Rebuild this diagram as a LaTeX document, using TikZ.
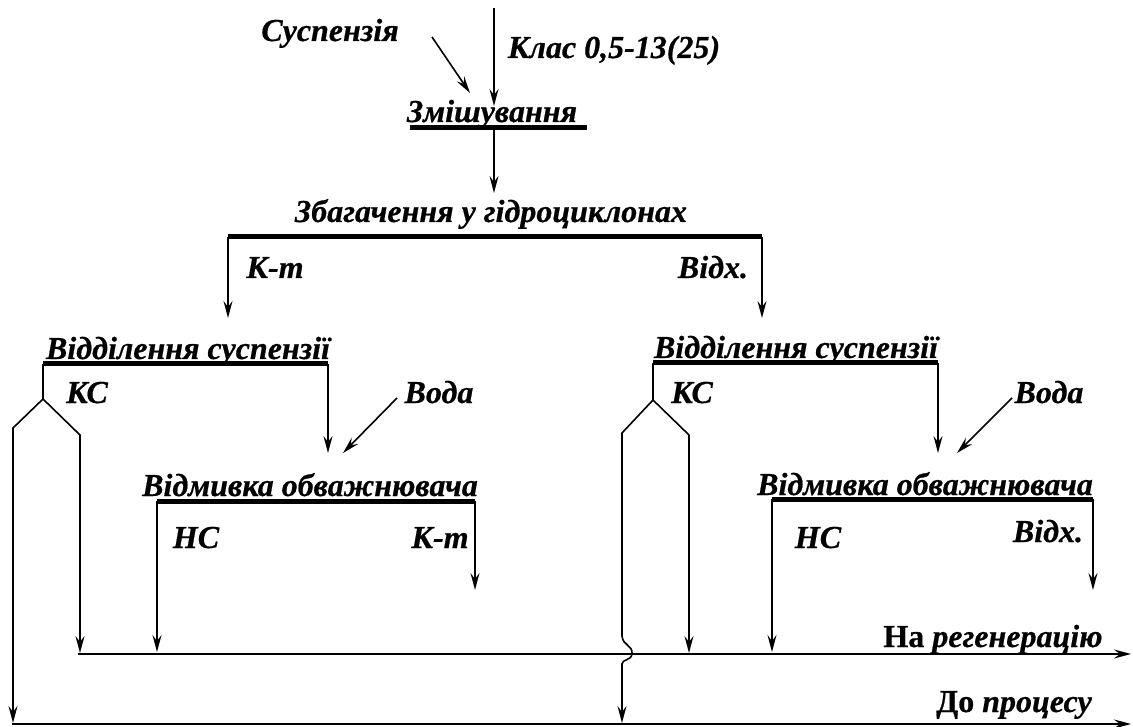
\documentclass[tikz,border=0pt]{standalone}
\usepackage{fontspec}
\setmainfont{Liberation Serif}[BoldItalicFeatures={FakeBold=0.6},BoldFeatures={FakeBold=0.6}]
\usetikzlibrary{arrows.meta}
\begin{document}
\begin{tikzpicture}[x=1pt,y=-1pt,
  lbl/.style={font=\fontsize{32}{36}\selectfont\bfseries\itshape, inner sep=0pt, anchor=base},
  bar/.style={line width=5pt},
  ln/.style={line width=1.6pt},
  flow/.style={ln,-{Stealth[length=17pt,width=9pt,inset=6pt]}}
]
\useasboundingbox (0,0) rectangle (1133,727);

% ---------- texts ----------
\node[lbl] (susp) at (330,41) {Суспензія};
\node[lbl] (klas) at (614,58) {Клас 0,5-13(25)};
\node[lbl] (mix) at (492,122) {Змішування};
\node[lbl] (enr) at (491,222) {Збагачення у гідроциклонах};
\node[lbl] (kt1) at (275,278) {К-т};
\node[lbl] (vidx1) at (713,278) {Відх.};
\node[lbl] (sepL) at (188,359) {Відділення суспензії};
\node[lbl] (ksL) at (87,403) {КС};
\node[lbl] (vodaL) at (439,403) {Вода};
\node[lbl] (washL) at (310,496) {Відмивка обважнювача};
\node[lbl] (nsL) at (196,548) {НС};
\node[lbl] (kt2) at (440,548) {К-т};
\node[lbl] (sepR) at (796,358) {Відділення суспензії};
\node[lbl] (ksR) at (692,403) {КС};
\node[lbl] (vodaR) at (1049,403) {Вода};
\node[lbl] (washR) at (925,495) {Відмивка обважнювача};
\node[lbl] (nsR) at (818,548) {НС};
\node[lbl] (vidx2) at (1048,542) {Відх.};
\node[lbl] (reg) at (993,647) {\upshape На \itshape регенерацію};
\node[lbl] (proc) at (1014,712) {\upshape До \itshape процесу};

% ---------- coordinates ----------
\coordinate (feedTop) at (494,8);
\coordinate (mixIn) at (494,106);
\coordinate (suspA) at (432,37);
\coordinate (suspB) at (470,93);
\coordinate (mixBL) at (410,128);
\coordinate (mixBR) at (587,128);
\coordinate (mixOut) at (494,128);
\coordinate (enrIn) at (494,193);
\coordinate (enrBL) at (228,237);
\coordinate (enrBR) at (762,237);
\coordinate (sepLin) at (228,318);
\coordinate (sepRin) at (762,318);
% left separation
\coordinate (sepLBL) at (43,364);
\coordinate (sepLBR) at (328,364);
\coordinate (splitL) at (43,399);
\coordinate (splitLl) at (13,428);
\coordinate (splitLr) at (80,435);
\coordinate (regInL1) at (80,653);
\coordinate (procInL) at (13,723);
\coordinate (washLin) at (328,453);
\coordinate (wLa) at (397,398);
\coordinate (wLb) at (343,453);
\coordinate (washLBL) at (157,501);
\coordinate (washLBR) at (475,501);
\coordinate (regInL2) at (157,652);
\coordinate (ktOutL) at (475,590);
% right separation
\coordinate (sepRBL) at (653,363);
\coordinate (sepRBR) at (938,363);
\coordinate (splitR) at (653,400);
\coordinate (splitRl) at (622,433);
\coordinate (splitRr) at (689,435);
\coordinate (bridgeA) at (622,636);
\coordinate (bridgeB) at (622,664);
\coordinate (procInR) at (622,723);
\coordinate (regInR1) at (689,653);
\coordinate (washRin) at (938,453);
\coordinate (wRa) at (1012,398);
\coordinate (wRb) at (957,453);
\coordinate (washRBL) at (772,499);
\coordinate (washRBR) at (1093,499);
\coordinate (regInR2) at (772,652);
\coordinate (vidxOutR) at (1093,590);
% collectors
\coordinate (regStart) at (78,654);
\coordinate (regEnd) at (1131,654);
\coordinate (procStart) at (12,724);
\coordinate (procEnd) at (1131,724);

% ---------- bars ----------
\draw[bar] (mixBL) -- (mixBR);
\draw[bar] (enrBL) -- (enrBR);
\draw[bar] (sepLBL) -- (sepLBR);
\draw[bar] (washLBL) -- (washLBR);
\draw[bar] (sepRBL) -- (sepRBR);
\draw[bar] (washRBL) -- (washRBR);

% ---------- flows ----------
\draw[flow] (feedTop) -- (mixIn);
\draw[flow] (suspA) -- (suspB);
\draw[flow] (mixOut) -- (enrIn);
\draw[flow] (enrBL) -- (sepLin);
\draw[flow] (enrBR) -- (sepRin);

\draw[ln] (sepLBL) -- (splitL);
\draw[flow] (splitL) -- (splitLl) -- (procInL);
\draw[flow] (splitL) -- (splitLr) -- (regInL1);
\draw[flow] (sepLBR) -- (washLin);
\draw[flow] (wLa) -- (wLb);
\draw[flow] (washLBL) -- (regInL2);
\draw[flow] (washLBR) -- (ktOutL);

\draw[ln] (sepRBL) -- (splitR);
\draw[flow] (splitR) -- (splitRl) -- (bridgeA)
  .. controls (623,646) and (633,645) .. (632,654)
  .. controls (631,661) and (622,659) .. (bridgeB) -- (procInR);
\draw[flow] (splitR) -- (splitRr) -- (regInR1);
\draw[flow] (sepRBR) -- (washRin);
\draw[flow] (wRa) -- (wRb);
\draw[flow] (washRBL) -- (regInR2);
\draw[flow] (washRBR) -- (vidxOutR);

\draw[flow] (regStart) -- (regEnd);
\draw[flow] (procStart) -- (procEnd);
\end{tikzpicture}
\end{document}
